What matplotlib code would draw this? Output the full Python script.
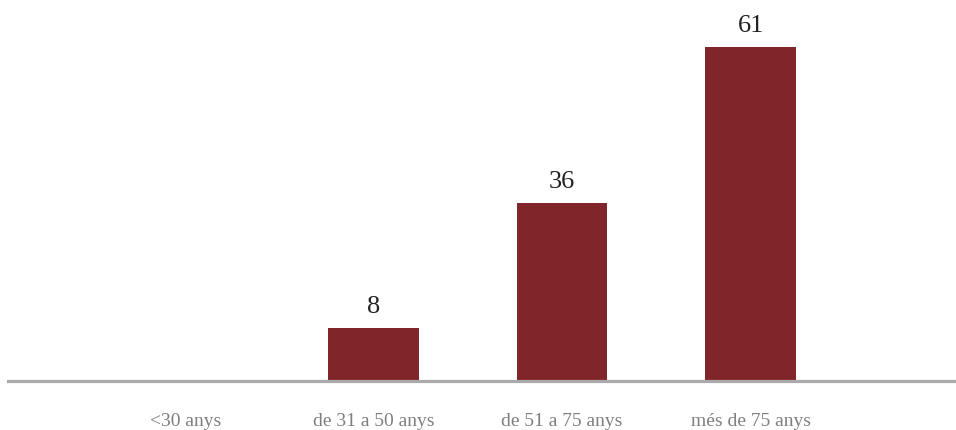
import matplotlib
matplotlib.use("Agg")
import matplotlib.pyplot as plt

categories = ["<30 anys", "de 31 a 50 anys", "de 51 a 75 anys", "més de 75 anys"]
value_labels = ["", "8", "36", "61"]
bar_heights = [0, 9.7, 32.5, 61]

bar_color = "#80252a"
fig = plt.figure(figsize=(9.56, 4.30), dpi=100)
ax = fig.add_axes([8 / 956, 49 / 430, 948 / 956, 381 / 430])

x = list(range(len(categories)))
bars = ax.bar(x, bar_heights, width=0.48, color=bar_color, zorder=2)
for xi, h, lab in zip(x, bar_heights, value_labels):
    if lab:
        ax.annotate(lab, (xi, h), xytext=(0, 7), textcoords="offset points",
                    ha="center", va="bottom", fontsize=19, color="#222222",
                    family="Liberation Serif")

ax.set_xlim(-0.94, 4.09)
ax.set_ylim(0, 69.6)
for s in ["top", "left", "right"]:
    ax.spines[s].set_visible(False)
ax.spines["bottom"].set_color("#aaaaaa")
ax.spines["bottom"].set_linewidth(2.3)
ax.spines["bottom"].set_zorder(3)
ax.set_yticks([])
ax.set_xticks(x)
ax.set_xticklabels(categories, fontsize=14, color="#7f7f7f", family="Liberation Serif")
ax.tick_params(axis="x", length=0, pad=23)

fig.savefig("out.png", dpi=100)
